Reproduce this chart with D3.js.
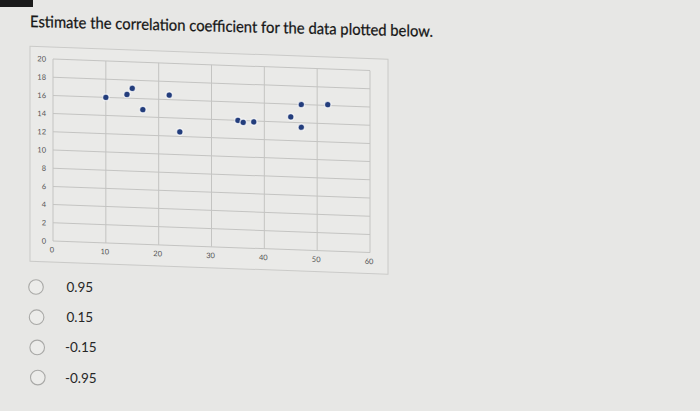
<!DOCTYPE html>
<html>
<head>
<meta charset="utf-8">
<script src="https://cdn.jsdelivr.net/npm/d3@7"></script>
<style>
  html, body { margin: 0; padding: 0; background: #e7e7e5; }
  svg { display: block; }
</style>
</head>
<body>
<div id="quiz"></div>
<script>
// question + answers
const question = "Estimate the correlation coefficient for the data plotted below.";
const choices = ["0.95", "0.15", "-0.15", "-0.95"];

// scatter data
const xValues = [10, 14, 15, 17, 22, 24, 35, 36, 38, 45, 47, 47, 52];
const yValues = [16, 16.4, 17.1, 14.8, 16.5, 12.5, 14, 13.8, 13.9, 14.6, 16, 13.5, 16.1];

const xTicks = [0, 10, 20, 30, 40, 50, 60];
const yTicks = [0, 2, 4, 6, 8, 10, 12, 14, 16, 18, 20];

const width = 700, height = 411;
const W = 317, H = 182; // plot area

const svg = d3.select("#quiz")
  .append("svg")
  .attr("width", width)
  .attr("height", height);

svg.append("rect")
  .attr("width", width)
  .attr("height", height)
  .attr("fill", "#e7e7e5");

// dark corner of the photo
svg.append("rect")
  .attr("x", 0).attr("y", 0)
  .attr("width", 33).attr("height", 7)
  .attr("fill", "#1b1b1b");

// title, a bit tilted like the photo
svg.append("g")
  .attr("transform", "translate(30,27) skewY(1.4)")
  .append("text")
  .attr("x", 0).attr("y", 0)
  .attr("textLength", 403)
  .attr("lengthAdjust", "spacingAndGlyphs")
  .style("font-family", "Lato, 'Open Sans', sans-serif")
  .style("font-size", "16px")
  .style("fill", "#161616")
  .style("stroke", "#161616")
  .style("stroke-width", "0.25px")
  .text(question);

// chart
const chart = svg.append("g")
  .attr("transform", "translate(53,59) skewY(2.1)");

chart.append("rect")
  .attr("x", -23).attr("y", -12)
  .attr("width", 358).attr("height", 215)
  .attr("fill", "#eaeae8")
  .attr("stroke", "#cacac8")
  .attr("stroke-width", 1);

const x = d3.scaleLinear().domain([0, 60]).range([0, W]);
const y = d3.scaleLinear().domain([0, 20]).range([H, 0]);

// gridlines
chart.append("g")
  .selectAll("line")
  .data(yTicks)
  .join("line")
  .attr("x1", 0).attr("x2", W)
  .attr("y1", d => y(d)).attr("y2", d => y(d))
  .attr("stroke", "#c4c4c2")
  .attr("stroke-width", 1);

chart.append("g")
  .selectAll("line")
  .data(xTicks)
  .join("line")
  .attr("y1", 0).attr("y2", H)
  .attr("x1", d => x(d)).attr("x2", d => x(d))
  .attr("stroke", "#c4c4c2")
  .attr("stroke-width", 1);

// axes (labels only)
const xAxis = chart.append("g")
  .attr("transform", "translate(0," + (H + 6) + ")")
  .call(d3.axisBottom(x).tickValues(xTicks).tickSize(0).tickPadding(0));
const yAxis = chart.append("g")
  .attr("transform", "translate(-7,0)")
  .call(d3.axisLeft(y).tickValues(yTicks).tickSize(0).tickPadding(0));

[xAxis, yAxis].forEach(function (a) {
  a.select(".domain").remove();
  a.selectAll("text")
    .style("font-family", "Lato, 'Open Sans', sans-serif")
    .style("font-size", "7.5px")
    .style("fill", "#555");
});
xAxis.selectAll("text").attr("dx", "-1.5");

// points
const pts = d3.range(xValues.length).map(i => ({ x: xValues[i], y: yValues[i] }));
chart.append("g")
  .selectAll("circle")
  .data(pts)
  .join("circle")
  .attr("cx", d => x(d.x))
  .attr("cy", d => y(d.y))
  .attr("r", 3.2)
  .attr("fill", "#233d7c")
  .attr("stroke", "rgba(255,255,255,0.7)")
  .attr("stroke-width", 1.2);

// answer choices
const opts = svg.append("g")
  .selectAll("g")
  .data(choices)
  .join("g")
  .attr("transform", (d, i) => "translate(0," + (287 + i * 30.2) + ")");

opts.append("circle")
  .attr("cx", (d, i) => 36 + i * 0.6)
  .attr("cy", 0)
  .attr("r", 7.3)
  .attr("fill", "#ececea")
  .attr("stroke", "#a9a9a7")
  .attr("stroke-width", 1.1);

opts.append("text")
  .attr("x", d => d[0] === "-" ? 65 : 66.5)
  .attr("y", 5)
  .style("font-family", "Lato, 'Open Sans', sans-serif")
  .style("font-size", "13.5px")
  .style("fill", "#262626")
  .text(d => d);
</script>
</body>
</html>
